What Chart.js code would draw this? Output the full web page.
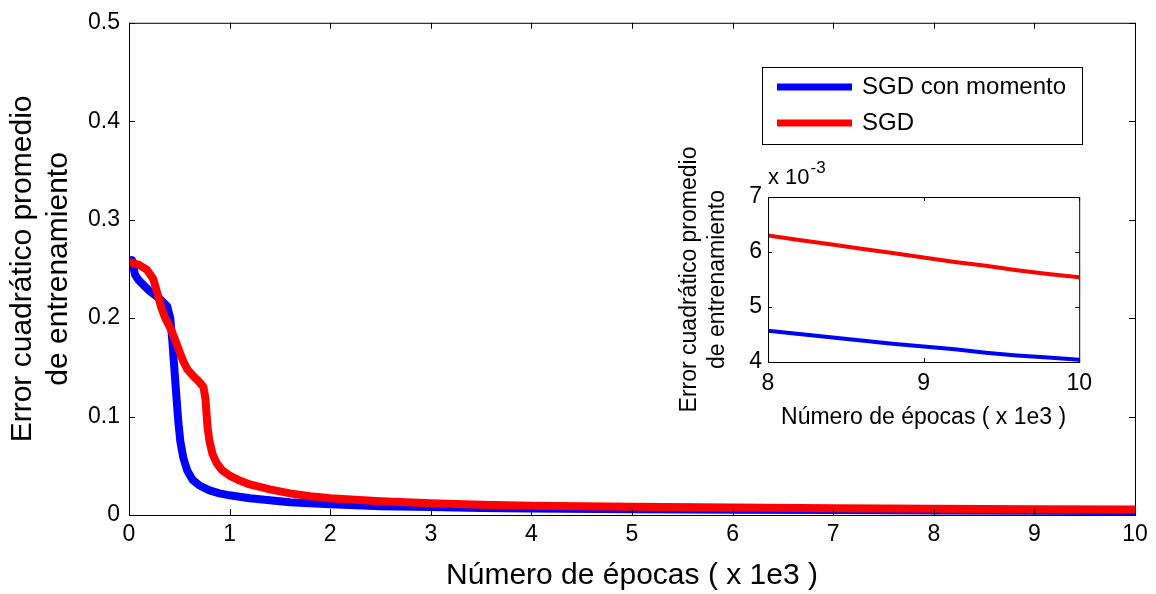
<!DOCTYPE html>
<html>
<head>
<meta charset="utf-8">
<script src="https://cdn.jsdelivr.net/npm/chart.js@4.4.0/dist/chart.umd.min.js"></script>
<style>
  html, body { margin: 0; padding: 0; background: #fff; }
  #wrap { position: relative; width: 1156px; height: 594px; }
  #mainChart { position: absolute; left: 0; top: 0; }
  #insetChart { position: absolute; left: 670px; top: 140px; }
</style>
</head>
<body>
<div id="wrap">
  <canvas id="mainChart" width="1156" height="594"></canvas>
  <canvas id="insetChart" width="430" height="300"></canvas>
</div>
<script>
// ---- data (epochs in thousands) ----
const epochsMomentum = [0, 0.03, 0.06, 0.1, 0.2, 0.3, 0.38, 0.41, 0.43, 0.45, 0.47, 0.49, 0.51, 0.54, 0.58, 0.63, 0.7, 0.8, 0.9, 1.0, 1.2, 1.4, 1.6, 1.8, 2.0, 2.5, 3.0, 3.5, 4.0, 5.0, 6.0, 7.0, 8.0, 9.0, 10.0];
const errorMomentum = [0.250, 0.259, 0.244, 0.238, 0.228, 0.220, 0.212, 0.200, 0.178, 0.150, 0.122, 0.095, 0.075, 0.058, 0.045, 0.036, 0.030, 0.025, 0.022, 0.020, 0.017, 0.015, 0.013, 0.012, 0.011, 0.009, 0.008, 0.0072, 0.0065, 0.0058, 0.0053, 0.0050, 0.0046, 0.0043, 0.0040];

const epochsSgd = [0, 0.1, 0.18, 0.24, 0.28, 0.32, 0.36, 0.42, 0.48, 0.54, 0.58, 0.64, 0.7, 0.74, 0.76, 0.78, 0.8, 0.83, 0.87, 0.92, 1.0, 1.1, 1.2, 1.4, 1.6, 1.8, 2.0, 2.5, 3.0, 3.5, 4.0, 5.0, 6.0, 7.0, 8.0, 9.0, 10.0];
const errorSgd = [0.257, 0.254, 0.249, 0.240, 0.226, 0.211, 0.200, 0.188, 0.172, 0.156, 0.148, 0.141, 0.135, 0.130, 0.118, 0.090, 0.075, 0.062, 0.053, 0.046, 0.040, 0.035, 0.031, 0.026, 0.022, 0.019, 0.017, 0.014, 0.012, 0.0105, 0.0095, 0.0085, 0.0076, 0.0069, 0.0063, 0.0059, 0.0055];

// inset zoom, values in units of 1e-3
const insetEpochs = [8.0, 8.2, 8.4, 8.6, 8.8, 9.0, 9.2, 9.4, 9.6, 9.8, 10.0];
const insetMomentum = [4.57, 4.51, 4.45, 4.39, 4.33, 4.28, 4.23, 4.17, 4.12, 4.08, 4.04];
const insetSgd = [6.30, 6.22, 6.14, 6.06, 5.98, 5.90, 5.82, 5.75, 5.67, 5.60, 5.54];

const seriesNames = ["SGD con momento", "SGD"];
const seriesColors = ["#0000ff", "#ff0000"];

const mainXTicks = [0, 1, 2, 3, 4, 5, 6, 7, 8, 9, 10];
const mainYTicks = [0, 0.1, 0.2, 0.3, 0.4, 0.5];
const insetXTicks = [8, 9, 10];
const insetYTicks = [4, 5, 6, 7];

const xTitle = "Número de épocas ( x 1e3 )";
const yTitle = ["Error cuadrático promedio", "de entrenamiento"];

const FONT = "'Liberation Sans', Arial, sans-serif";
Chart.defaults.color = "#000";
Chart.defaults.font.family = FONT;

const toPoints = (xs, ys) => xs.map((x, i) => ({ x: x, y: ys[i] }));

// box with inward ticks on all four sides, like the original plot
const makeFrame = (tickLen) => ({
    id: "frame",
    afterDraw(chart) {
        const { ctx, chartArea: a, scales } = chart;
        ctx.save();
        ctx.strokeStyle = "#000";
        ctx.lineWidth = 1;
        ctx.strokeRect(a.left + 0.5, a.top + 0.5, a.right - a.left, a.bottom - a.top);
        ctx.beginPath();
        scales.x.ticks.forEach(t => {
            const px = Math.round(scales.x.getPixelForValue(t.value)) + 0.5;
            ctx.moveTo(px, a.bottom); ctx.lineTo(px, a.bottom - tickLen);
            ctx.moveTo(px, a.top); ctx.lineTo(px, a.top + tickLen);
        });
        scales.y.ticks.forEach(t => {
            const py = Math.round(scales.y.getPixelForValue(t.value)) + 0.5;
            ctx.moveTo(a.left, py); ctx.lineTo(a.left + tickLen, py);
            ctx.moveTo(a.right, py); ctx.lineTo(a.right - tickLen, py);
        });
        ctx.stroke();
        ctx.restore();
    }
});

// legend inside a white box at the upper right
const boxLegend = {
    id: "boxLegend",
    afterDraw(chart) {
        const ctx = chart.ctx;
        const box = { x: 762, y: 67, w: 320, h: 77 };
        ctx.save();
        ctx.fillStyle = "#fff";
        ctx.fillRect(box.x, box.y, box.w, box.h);
        ctx.strokeStyle = "#000";
        ctx.lineWidth = 1;
        ctx.strokeRect(box.x + 0.5, box.y + 0.5, box.w, box.h);
        ctx.font = "24px " + FONT;
        ctx.textBaseline = "middle";
        chart.data.datasets.forEach((ds, i) => {
            const y = box.y + 20 + i * 36;
            ctx.strokeStyle = ds.borderColor;
            ctx.lineWidth = 7;
            ctx.beginPath();
            ctx.moveTo(box.x + 15, y);
            ctx.lineTo(box.x + 90, y);
            ctx.stroke();
            ctx.fillStyle = "#000";
            ctx.fillText(ds.label, box.x + 100, y);
        });
        ctx.restore();
    }
};

// "x 10^-3" multiplier above the inset y axis
const exponentLabel = {
    id: "exponentLabel",
    afterDraw(chart) {
        const ctx = chart.ctx;
        const left = chart.chartArea.left;
        ctx.save();
        ctx.fillStyle = "#000";
        ctx.textBaseline = "alphabetic";
        ctx.font = "22px " + FONT;
        ctx.fillText("x 10", left, 44);
        const w = ctx.measureText("x 10").width;
        ctx.font = "17px " + FONT;
        ctx.fillText("-3", left + w + 1, 33);
        ctx.restore();
    }
};

new Chart(document.getElementById("mainChart"), {
    type: "line",
    data: {
        datasets: [{
            label: seriesNames[0],
            data: toPoints(epochsMomentum, errorMomentum),
            borderColor: seriesColors[0],
            borderWidth: 8,
            order: 1
        }, {
            label: seriesNames[1],
            data: toPoints(epochsSgd, errorSgd),
            borderColor: seriesColors[1],
            borderWidth: 8,
            order: 0
        }]
    },
    options: {
        responsive: false,
        animation: false,
        elements: { point: { radius: 0 }, line: { tension: 0, borderJoinStyle: "round" } },
        layout: { padding: { left: 0, top: 14, right: 21, bottom: 0 } },
        plugins: { legend: { display: false }, tooltip: { enabled: false } },
        scales: {
            x: {
                type: "linear", min: 0, max: 10,
                afterBuildTicks: s => { s.ticks = mainXTicks.map(v => ({ value: v })); },
                afterFit: s => { s.height = 79; },
                grid: { display: false, drawTicks: false },
                border: { display: false },
                ticks: { font: { size: 23 }, padding: 6, maxRotation: 0, autoSkip: false },
                title: { display: true, text: xTitle, font: { size: 30, lineHeight: 1.2 }, padding: { top: 0, bottom: 0 } }
            },
            y: {
                type: "linear", min: 0, max: 0.5,
                afterBuildTicks: s => { s.ticks = mainYTicks.map(v => ({ value: v })); },
                afterFit: s => { s.width = 129; },
                grid: { display: false, drawTicks: false },
                border: { display: false },
                ticks: { font: { size: 23 }, padding: 9, callback: v => String(v) },
                title: { display: true, text: yTitle, font: { size: 30, lineHeight: 1.2 }, padding: { top: 5, bottom: 0 } }
            }
        }
    },
    plugins: [makeFrame(6), boxLegend]
});

new Chart(document.getElementById("insetChart"), {
    type: "line",
    data: {
        datasets: [{
            label: seriesNames[0],
            data: toPoints(insetEpochs, insetMomentum),
            borderColor: seriesColors[0],
            borderWidth: 4
        }, {
            label: seriesNames[1],
            data: toPoints(insetEpochs, insetSgd),
            borderColor: seriesColors[1],
            borderWidth: 4
        }]
    },
    options: {
        responsive: false,
        animation: false,
        elements: { point: { radius: 0 }, line: { tension: 0 } },
        layout: { padding: { left: 0, top: 57, right: 17, bottom: 0 } },
        plugins: { legend: { display: false }, tooltip: { enabled: false } },
        scales: {
            x: {
                type: "linear", min: 8, max: 10,
                afterBuildTicks: s => { s.ticks = insetXTicks.map(v => ({ value: v })); },
                afterFit: s => { s.height = 78; },
                grid: { display: false, drawTicks: false },
                border: { display: false },
                ticks: { font: { size: 23 }, padding: 8, maxRotation: 0, autoSkip: false },
                title: { display: true, text: xTitle, font: { size: 23, lineHeight: 1.2 }, padding: { top: 0, bottom: 9 } }
            },
            y: {
                type: "linear", min: 4, max: 7,
                afterBuildTicks: s => { s.ticks = insetYTicks.map(v => ({ value: v })); },
                afterFit: s => { s.width = 98; },
                grid: { display: false, drawTicks: false },
                border: { display: false },
                ticks: { font: { size: 23 }, padding: 6 },
                title: { display: true, text: yTitle, font: { size: 23, lineHeight: 1.2 }, padding: { top: 6, bottom: 0 } }
            }
        }
    },
    plugins: [makeFrame(4), exponentLabel]
});
</script>
</body>
</html>
